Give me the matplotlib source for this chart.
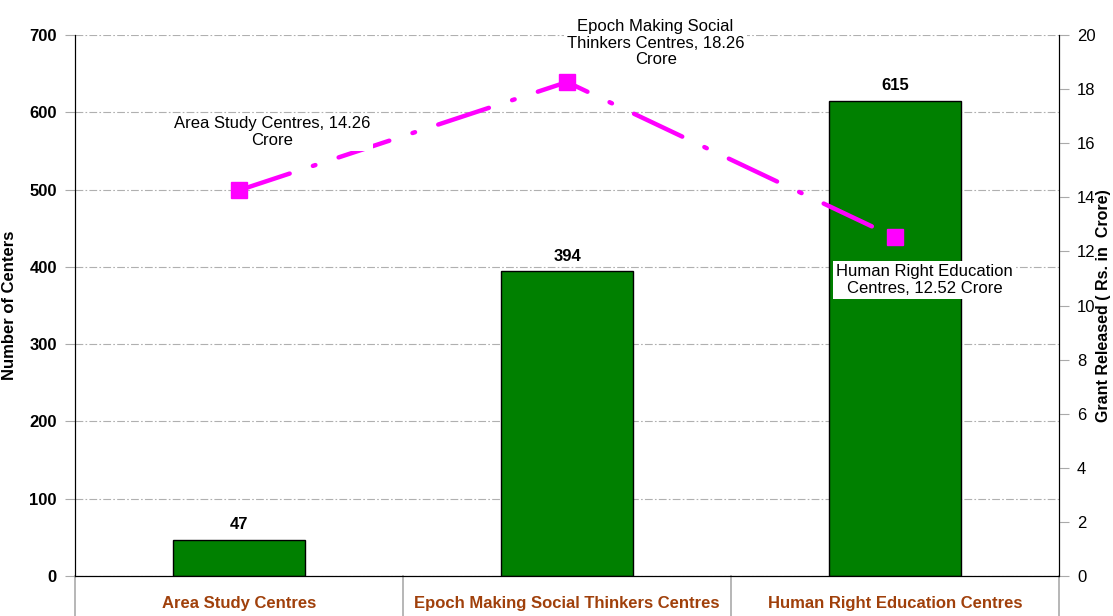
#!/usr/bin/env python3
import matplotlib
matplotlib.use('Agg')
import matplotlib.pyplot as plt

categories = ['Area Study Centres', 'Epoch Making Social Thinkers Centres',
	'Human Right Education Centres']
centers = [47, 394, 615]
grant = [14.26, 18.26, 12.52]
point_labels = ['Area Study Centres, 14.26\nCrore',
	'Epoch Making Social\nThinkers Centres, 18.26\nCrore',
	'Human Right Education\nCentres, 12.52 Crore']

plt.rcParams['font.family'] = ['Liberation Sans', 'DejaVu Sans']

fig = plt.figure(figsize=(11.13, 6.16), dpi=100)
ax = fig.add_axes([0.0674, 0.0649, 0.8841, 0.8783])
ax2 = ax.twinx()

x = list(range(len(categories)))
ax.bar(x, centers, width=0.4, color='#008000', edgecolor='black', linewidth=1, zorder=2)
for xi, v in zip(x, centers):
	ax.text(xi, v + 10, str(v), ha='center', va='bottom', fontsize=12, fontweight='bold')

ax.set_xlim(-0.5, 2.5)
ax.set_ylim(0, 700)
ax.set_yticks(range(0, 701, 100))
ax.yaxis.grid(True, color='#b0b0b0', linestyle=(0, (7, 2, 1.5, 2)), linewidth=0.8, zorder=0)
ax.set_axisbelow(True)
ax.tick_params(axis='y', direction='out', length=7, color='#aaaaaa', labelsize=12, pad=6)
for lab in ax.get_yticklabels():
	lab.set_fontweight('bold')
ax.set_xticks([])
ax.set_ylabel('Number of Centers', fontsize=12, fontweight='bold')
ax.yaxis.set_label_coords(-0.059, 0.5)
ax.spines['top'].set_visible(False)
ax2.spines['top'].set_visible(False)

# category boxes below the axis
for b in [-0.5, 0.5, 1.5, 2.5]:
	ax.plot([b, b], [0, -0.08], color='#aaaaaa', linewidth=1.2,
		transform=ax.get_xaxis_transform(), clip_on=False)
for xi, c in zip(x, categories):
	ax.text(xi, -0.05, c, ha='center', va='center', fontsize=12, fontweight='bold',
		color='#A0400B', transform=ax.get_xaxis_transform())

ax2.plot(x, grant, color='#FF00FF', linewidth=3.2, linestyle=(0, (12, 5.5, 0.6, 5.5)),
	dash_capstyle='round', marker='s', markersize=11, zorder=3)
ax2.set_ylim(0, 20)
ax2.set_yticks(range(0, 21, 2))
ax2.tick_params(axis='y', direction='out', length=7, color='#aaaaaa', labelsize=12, pad=6)
ax2.set_ylabel('Grant Released ( Rs. in  Crore)', fontsize=11.5, fontweight='bold')
ax2.yaxis.set_label_coords(1.038, 0.5)

label_pos = [(0.10, 16.4), (1.27, 19.7), (2.09, 10.95)]
for (lx, ly), t in zip(label_pos, point_labels):
	ax2.text(lx, ly, t, ha='center', va='center', fontsize=12, linespacing=1.15,
		bbox=dict(facecolor='white', edgecolor='none', pad=2), zorder=4)

fig.savefig('out.png', dpi=100)
